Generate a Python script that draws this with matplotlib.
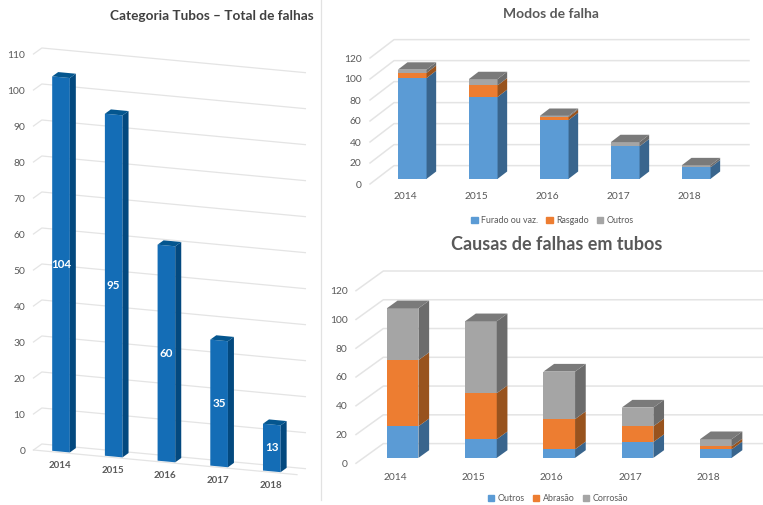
import matplotlib
matplotlib.use("Agg")
import matplotlib.pyplot as plt
from matplotlib.lines import Line2D
from matplotlib.patches import Patch, Polygon

plt.rcParams['font.family'] = ['Lato', 'DejaVu Sans']

W, H = 763, 505

# dados
anos = ['2014', '2015', '2016', '2017', '2018']

total_falhas = [104, 95, 60, 35, 13]

furado = [96, 78, 56, 31, 11]
rasgado = [5, 11, 3, 0, 0]
outros_modos = [3, 6, 1, 4, 2]

outros_causas = [22, 13, 6, 11, 6]
abrasao = [46, 32, 21, 11, 2]
corrosao = [36, 50, 33, 13, 5]

# cores
AZUL = ('#5B9BD5', '#39658D')
LARANJA = ('#ED7D31', '#98531E')
CINZA = ('#A5A5A5', '#6C6C6C')
TUBO = ('#146DB6', '#03497F')
GRADE = '#E4E4E4'
TEXTO = '#595959'

fig = plt.figure(figsize=(W / 100, H / 100), dpi=100)


def eixo_px(esq, topo, dir, base):
    # eixo posicionado em pixels da imagem
    return fig.add_axes([esq / W, 1 - base / H, (dir - esq) / W, (base - topo) / H])


def barras_3d(ax, series, cores, cor_topo, ymax, passo, dx, dy, d0, d1, larg,
              inclina=0, piso=False, grade_lw=1.0, tam=7.4):
    # projecao obliqua: d = profundidade (0 frente, 1 fundo)
    def pt(x, v, d):
        return (x + d * dx, v + d * dy - inclina * (x + 0.5))

    ax.set_xlim(-0.5, 4.5)
    ax.set_ylim(0, ymax)
    for s in ax.spines.values():
        s.set_visible(False)
    ax.patch.set_visible(False)
    ax.set_yticks(range(0, ymax + 1, passo))
    ax.tick_params(axis='y', length=0, pad=6, labelsize=tam, labelcolor=TEXTO)
    ax.set_xticks([])

    # grade
    for v in range(0, ymax + 1, passo):
        p = [pt(-0.5, v, 0), pt(-0.5, v, 1), pt(4.5, v, 1)]
        ax.add_line(Line2D([q[0] for q in p], [q[1] for q in p], color=GRADE,
                           lw=grade_lw, clip_on=False, zorder=1))
    if piso:
        p = [pt(-0.5, 0, 0), pt(4.5, 0, 0)]
        ax.add_line(Line2D([q[0] for q in p], [q[1] for q in p], color=GRADE,
                           lw=grade_lw, clip_on=False, zorder=1))

    # barras empilhadas
    for i in range(len(anos)):
        e = i - larg / 2
        d = i + larg / 2
        base = 0
        for vals, (frente, lado) in zip(series, cores):
            topo = base + vals[i]
            if vals[i] > 0:
                ax.add_patch(Polygon([pt(e, base, d0), pt(d, base, d0), pt(d, topo, d0), pt(e, topo, d0)],
                                     fc=frente, ec='none', clip_on=False, zorder=3))
                ax.add_patch(Polygon([pt(d, base, d0), pt(d, base, d1), pt(d, topo, d1), pt(d, topo, d0)],
                                     fc=lado, ec='none', clip_on=False, zorder=3))
            base = topo
        ax.add_patch(Polygon([pt(e, base, d0), pt(d, base, d0), pt(d, base, d1), pt(e, base, d1)],
                             fc=cor_topo, ec='none', clip_on=False, zorder=3))
    return pt


# Grafico da esquerda
ax1 = eixo_px(33.5, 54, 297, 450)
pt1 = barras_3d(ax1, [total_falhas], [TUBO], '#04568F', 110, 10, 0.158, 1.67, 0.14, 0.86, 0.335,
                inclina=1.37, piso=True, grade_lw=0.9)
for i, ano in enumerate(anos):
    x, y = pt1(i, -3.6, 0)
    ax1.text(x, y, ano, ha='center', va='center', fontsize=7, fontweight='bold', color=TEXTO)
    x, y = pt1(i, total_falhas[i] / 2, 0.14)
    ax1.text(x, y, str(total_falhas[i]), ha='center', va='center', fontsize=8.4,
             fontweight='bold', color='white', zorder=5)
fig.text(211.5 / W, 1 - 16 / H, 'Categoria Tubos – Total de falhas', ha='center', va='center',
         fontsize=9.8, fontweight='bold', color='#404040')

# Modos de falha
ax2 = eixo_px(370, 58, 725, 184)
barras_3d(ax2, [furado, rasgado, outros_modos], [AZUL, LARANJA, CINZA], '#7A7A7A', 120, 20,
          0.338, 17.5, 0.28, 0.68, 0.404, grade_lw=1.1)
ax2.set_xticks(range(len(anos)))
ax2.set_xticklabels(anos)
ax2.tick_params(axis='x', length=0, pad=6, labelsize=7.4, labelcolor=TEXTO)
fig.text(550.5 / W, 1 - 14 / H, 'Modos de falha', ha='center', va='center',
         fontsize=10, fontweight='bold', color=TEXTO)
fig.legend(handles=[Patch(color=AZUL[0], label='Furado ou vaz.'), Patch(color=LARANJA[0], label='Rasgado'),
                    Patch(color=CINZA[0], label='Outros')],
           loc='center', bbox_to_anchor=(552.5 / W, 1 - 220.5 / H), ncol=3, frameon=False, fontsize=6.4,
           handlelength=0.7, handleheight=0.7, handletextpad=0.4, columnspacing=0.9, labelcolor=TEXTO,
           borderpad=0, borderaxespad=0)

# Causas de falhas
ax3 = eixo_px(356, 290.7, 747.5, 463.3)
barras_3d(ax3, [outros_causas, abrasao, corrosao], [AZUL, LARANJA, CINZA], '#7A7A7A', 120, 20,
          0.349, 13.7, 0.274, 0.665, 0.404, grade_lw=1.1)
ax3.set_xticks(range(len(anos)))
ax3.set_xticklabels(anos)
ax3.tick_params(axis='x', length=0, pad=7, labelsize=7.4, labelcolor=TEXTO)
fig.text(556.5 / W, 1 - 244.5 / H, 'Causas de falhas em tubos', ha='center', va='center',
         fontsize=13, fontweight='bold', color=TEXTO)
fig.legend(handles=[Patch(color=AZUL[0], label='Outros'), Patch(color=LARANJA[0], label='Abrasão'),
                    Patch(color=CINZA[0], label='Corrosão')],
           loc='center', bbox_to_anchor=(558 / W, 1 - 498.5 / H), ncol=3, frameon=False, fontsize=6.4,
           handlelength=0.7, handleheight=0.7, handletextpad=0.4, columnspacing=0.9, labelcolor=TEXTO,
           borderpad=0, borderaxespad=0)

# divisoria entre os graficos
fig.add_artist(Line2D([320.5 / W, 320.5 / W], [1 - 500 / H, 1], color='#E2E2E2', lw=0.9))

fig.savefig('out.png', dpi=100)
